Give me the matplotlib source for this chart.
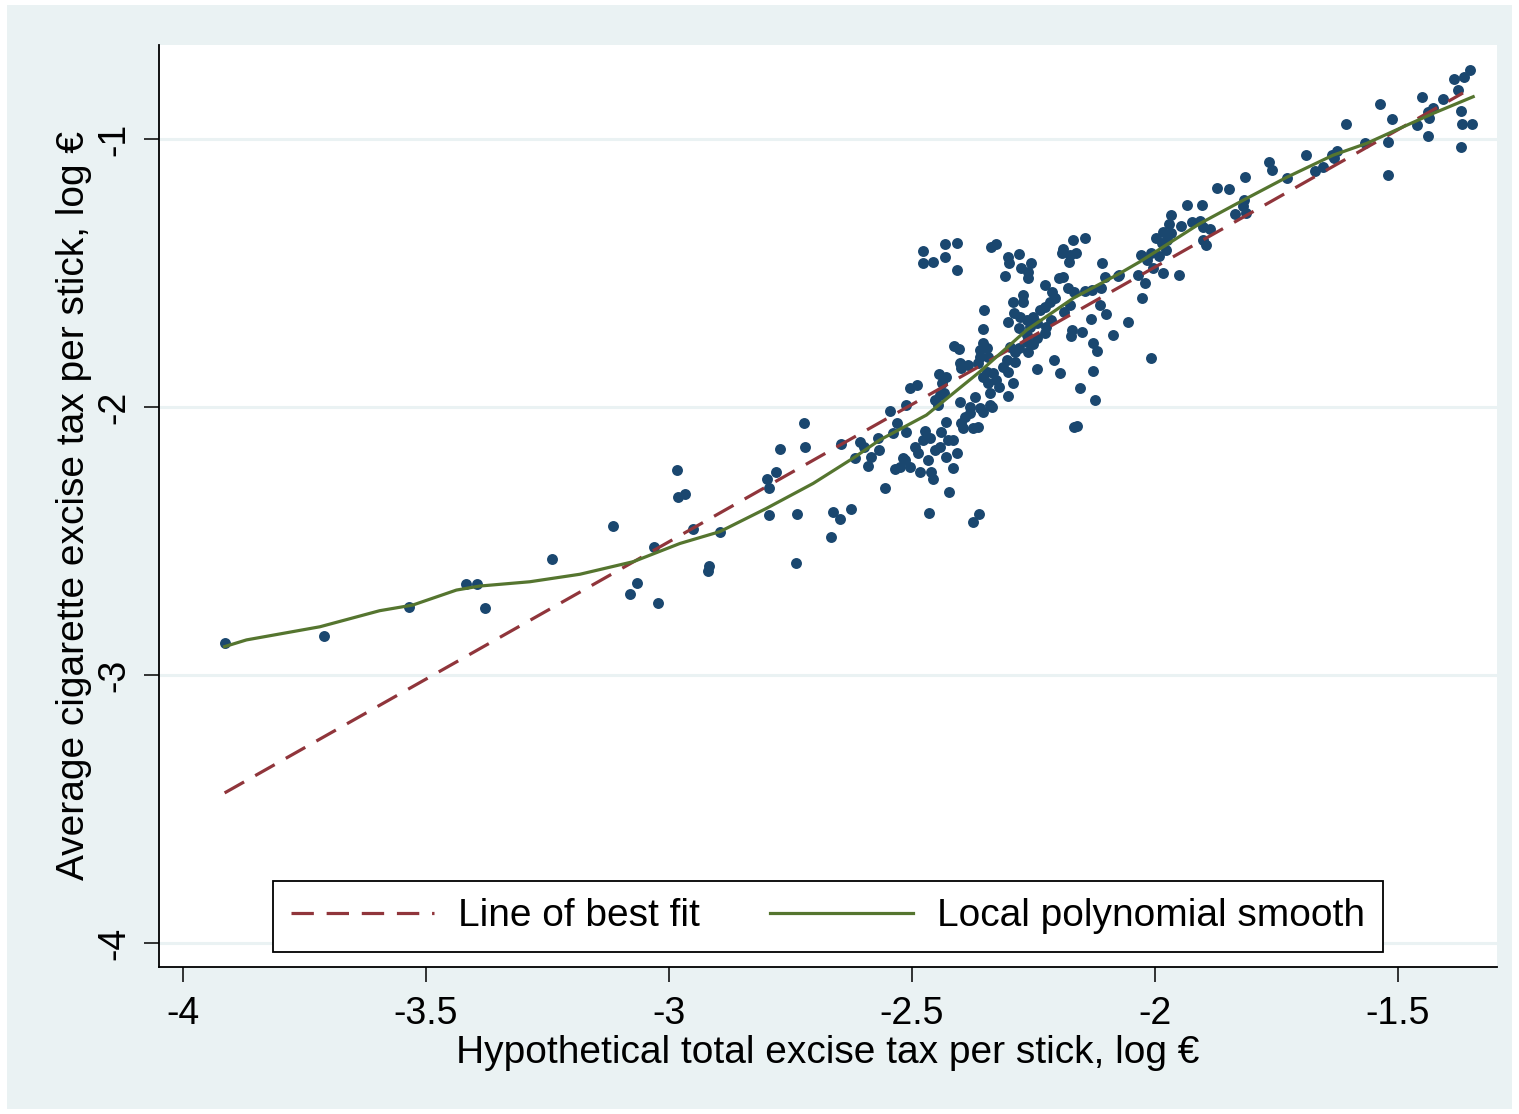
"""Average cigarette excise tax vs hypothetical total excise tax (log scale), Stata-style."""

import numpy as np
import matplotlib
matplotlib.use('Agg')
import matplotlib.pyplot as plt
from matplotlib.patches import Rectangle

plt.rcParams['font.family'] = ['Liberation Sans', 'DejaVu Sans']
plt.rcParams['axes.unicode_minus'] = False

# Scatter points (log euro)
hypo_tax = [
    -3.914, -3.710, -3.534, -3.417, -3.394, -3.378, -3.241,
    -3.114, -2.984, -2.982, -2.966, -3.031, -3.065, -3.079, -3.023, -2.951,
    -2.894, -2.917, -2.920, -2.794, -2.737, -2.739, -2.798, -2.794, -2.780,
    -2.772, -2.722, -2.720, -2.662, -2.647, -2.626, -2.667, -2.646, -2.599,
    -2.617,
    -2.607, -2.569, -2.567, -2.583, -2.590, -2.545, -2.531, -2.538, -2.511,
    -2.511, -2.503, -2.490, -2.556, -2.518, -2.525, -2.535, -2.504, -2.484,
    -2.460, -2.456, -2.467, -2.416, -2.424, -2.464, -2.374, -2.362, -2.514,
    -2.473, -2.477, -2.494, -2.487, -2.463, -2.453, -2.442, -2.439, -2.430,
    -2.425, -2.415, -2.430, -2.408, -2.398, -2.391, -2.381, -2.395, -2.374,
    -2.364, -2.353, -2.444, -2.429, -2.437, -2.453, -2.442, -2.434, -2.447,
    -2.401, -2.381, -2.370, -2.360, -2.340, -2.336, -2.413, -2.403, -2.401,
    -2.385, -2.398, -2.352, -2.354, -2.353, -2.360, -2.346, -2.360, -2.343,
    -2.364, -2.346, -2.353, -2.333, -2.343, -2.326, -2.320, -2.340, -2.292,
    -2.302, -2.298, -2.288, -2.305, -2.288, -2.312, -2.302, -2.279, -2.262,
    -2.264, -2.264, -2.250, -2.243, -2.303, -2.280, -2.257, -2.243, -2.223,
    -2.213, -2.289, -2.278, -2.264, -2.250, -2.237, -2.226, -2.272, -2.292,
    -2.272, -2.215, -2.206, -2.225, -2.211, -2.178, -2.166, -2.144, -2.129,
    -2.110, -2.187, -2.175, -2.113, -2.101, -2.132, -2.171, -2.173, -2.150,
    -2.226, -2.127, -2.118, -2.087, -2.208, -2.195, -2.242, -2.127, -2.153,
    -2.123, -2.161, -2.166,
    -2.477, -2.478, -2.456, -2.432, -2.431, -2.407, -2.407, -2.337, -2.326,
    -2.302, -2.280, -2.300, -2.254, -2.276, -2.261, -2.261, -2.308, -2.189,
    -2.168, -2.143, -2.192, -2.175, -2.162, -2.176, -2.108, -2.103, -2.076,
    -2.198, -2.190,
    -2.056, -2.007, -2.027, -2.021, -2.034, -2.074, -1.983, -1.951, -2.004,
    -2.017, -2.029, -2.007, -1.991, -1.977, -1.986, -1.976, -1.997, -1.966,
    -1.983, -1.971, -1.966, -1.946, -1.924, -1.907, -1.901, -1.887, -1.901,
    -1.894, -1.933, -1.903, -1.872, -1.848, -1.817, -1.818, -1.813, -1.835,
    -1.815, -1.765, -1.759, -1.729, -1.689, -1.670, -1.654, -1.636, -1.626,
    -1.631, -1.607, -1.568, -1.537, -1.512, -1.520, -1.520, -1.460, -1.451,
    -1.438, -1.436, -1.427, -1.408, -1.438, -1.385, -1.364, -1.352, -1.376,
    -1.371, -1.368, -1.347, -1.370,
]
avg_tax = [
    -2.879, -2.853, -2.745, -2.662, -2.662, -2.750, -2.567,
    -2.443, -2.236, -2.335, -2.326, -2.521, -2.656, -2.698, -2.731, -2.454,
    -2.465, -2.592, -2.612, -2.404, -2.400, -2.583, -2.270, -2.303, -2.241,
    -2.156, -2.061, -2.150, -2.391, -2.419, -2.381, -2.484, -2.138, -2.148,
    -2.191,
    -2.129, -2.117, -2.160, -2.188, -2.220, -2.014, -2.061, -2.098, -2.092,
    -1.993, -1.930, -1.919, -2.303, -2.191, -2.223, -2.232, -2.223, -2.241,
    -2.241, -2.270, -2.198, -2.229, -2.316, -2.394, -2.428, -2.399, -2.198,
    -2.088, -2.123, -2.148, -2.173, -2.117, -2.160, -2.148, -2.092, -2.055,
    -2.123, -2.123, -2.188, -2.173, -2.061, -2.036, -2.024, -2.079, -2.079,
    -2.074, -2.018, -1.878, -1.887, -1.912, -1.974, -1.955, -1.949, -1.993,
    -1.980, -1.999, -1.962, -2.005, -1.993, -1.999, -1.771, -1.784, -1.837,
    -1.843, -1.856, -1.638, -1.709, -1.762, -1.787, -1.781, -1.812, -1.812,
    -1.837, -1.868, -1.887, -1.874, -1.912, -1.899, -1.924, -1.949, -1.912,
    -1.958, -1.775, -1.794, -1.825, -1.831, -1.850, -1.868, -1.781, -1.794,
    -1.731, -1.756, -1.765, -1.744, -1.682, -1.706, -1.700, -1.688, -1.700,
    -1.675, -1.650, -1.663, -1.675, -1.663, -1.638, -1.626, -1.582, -1.607,
    -1.607, -1.607, -1.594, -1.545, -1.570, -1.557, -1.570, -1.566, -1.563,
    -1.557, -1.644, -1.619, -1.619, -1.654, -1.673, -1.713, -1.735, -1.721,
    -1.723, -1.762, -1.791, -1.732, -1.825, -1.874, -1.859, -1.865, -1.930,
    -1.974, -2.071, -2.076,
    -1.418, -1.462, -1.458, -1.392, -1.439, -1.388, -1.489, -1.402, -1.393,
    -1.441, -1.428, -1.464, -1.462, -1.482, -1.495, -1.520, -1.511, -1.412,
    -1.377, -1.371, -1.426, -1.433, -1.426, -1.458, -1.464, -1.514, -1.511,
    -1.518, -1.514,
    -1.684, -1.816, -1.594, -1.538, -1.507, -1.507, -1.499, -1.507, -1.482,
    -1.451, -1.433, -1.426, -1.437, -1.414, -1.389, -1.377, -1.368, -1.352,
    -1.346, -1.318, -1.284, -1.325, -1.309, -1.306, -1.327, -1.336, -1.377,
    -1.396, -1.245, -1.246, -1.183, -1.185, -1.228, -1.249, -1.277, -1.280,
    -1.141, -1.085, -1.116, -1.147, -1.061, -1.119, -1.106, -1.060, -1.044,
    -1.072, -0.945, -1.016, -0.869, -0.926, -1.010, -1.134, -0.946, -0.844,
    -0.898, -0.923, -0.885, -0.851, -0.988, -0.777, -0.769, -0.743, -0.817,
    -0.894, -0.945, -0.945, -1.030,
]

# Line of best fit (endpoints)
fit_x = [-3.914, -1.366]
fit_y = [-3.440, -0.828]

# Local polynomial smooth
smooth_x = [-3.914, -3.869, -3.718, -3.595, -3.527, -3.437, -3.389, -3.286,
            -3.183, -3.073, -2.977, -2.895, -2.799, -2.703, -2.621, -2.566,
            -2.470, -2.360, -2.264, -2.168, -2.072, -2.031, -1.907, -1.818,
            -1.729, -1.633, -1.564, -1.496, -1.427, -1.345]
smooth_y = [-2.894, -2.869, -2.820, -2.760, -2.739, -2.683, -2.668, -2.652,
            -2.624, -2.577, -2.509, -2.465, -2.378, -2.285, -2.191, -2.123,
            -2.030, -1.868, -1.713, -1.594, -1.501, -1.458, -1.315, -1.228,
            -1.143, -1.060, -1.016, -0.960, -0.904, -0.842]

x_ticks = [-4, -3.5, -3, -2.5, -2, -1.5]
x_tick_labels = ['-4', '-3.5', '-3', '-2.5', '-2', '-1.5']
y_ticks = [-4, -3, -2, -1]
y_tick_labels = ['-4', '-3', '-2', '-1']

navy = '#1a476f'
maroon = '#90353b'
olive = '#55752f'
bg = '#eaf2f3'

W, H = 1519, 1114
fig = plt.figure(figsize=(W / 100, H / 100), dpi=100, facecolor='white')
fig.add_artist(Rectangle((7 / W, 5 / H), (W - 14) / W, (H - 10) / H,
                         transform=fig.transFigure, facecolor=bg,
                         edgecolor='none', zorder=-10))

ax = fig.add_axes([159 / W, (H - 967) / H, (1497 - 159) / W, (967 - 45) / H])
ax.set_facecolor('white')

# grid lines at y ticks
for yv in y_ticks:
    ax.axhline(yv, color=bg, lw=2.2, zorder=0)

ax.scatter(hypo_tax, avg_tax, s=62, color=navy, linewidths=0, zorder=3)

ax.plot(fit_x, fit_y, color=maroon, lw=2.3, dashes=(7, 4),
        label='Line of best fit', zorder=4)
ax.plot(smooth_x, smooth_y, color=olive, lw=2.3,
        label='Local polynomial smooth', zorder=5)

ax.set_xlim(-4.049, -1.296)
ax.set_ylim(-4.0896, -0.649)

ax.set_xticks(x_ticks)
ax.set_xticklabels(x_tick_labels)
ax.set_yticks(y_ticks)
ax.set_yticklabels(y_tick_labels, rotation=90, va='center')
ax.tick_params(axis='both', length=11, width=1.1, labelsize=27, color='black')
ax.tick_params(axis='x', pad=10)
ax.tick_params(axis='y', pad=8)

for side in ['top', 'right']:
    ax.spines[side].set_visible(False)
for side in ['left', 'bottom']:
    ax.spines[side].set_linewidth(1.3)

ax.set_xlabel('Hypothetical total excise tax per stick, log €', fontsize=28,
              labelpad=2)
ax.set_ylabel('Average cigarette excise tax per stick, log €', fontsize=28,
              labelpad=3.5)

leg = ax.legend(loc='lower center', bbox_to_anchor=(0.5, 0.0163), ncol=2,
                fontsize=28, frameon=True, fancybox=False, framealpha=1,
                edgecolor='black', handlelength=3.68, handletextpad=0.62,
                columnspacing=1.8, borderpad=0.45, borderaxespad=0)
leg.get_frame().set_linewidth(1.3)

fig.savefig('out.png', dpi=100, facecolor=fig.get_facecolor())
